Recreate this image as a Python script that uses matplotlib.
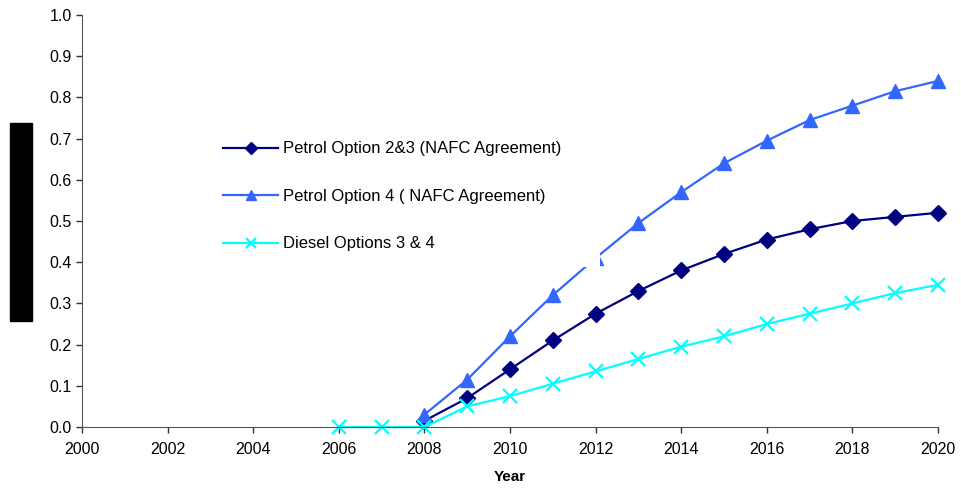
import matplotlib
matplotlib.use("Agg")
import matplotlib.pyplot as plt
from matplotlib.patches import Rectangle

plt.rcParams['font.family'] = ['Liberation Sans', 'DejaVu Sans']

years_p = [2008, 2009, 2010, 2011, 2012, 2013, 2014, 2015, 2016, 2017, 2018, 2019, 2020]
petrol_23 = [0.015, 0.07, 0.14, 0.21, 0.275, 0.33, 0.38, 0.42, 0.455, 0.48, 0.50, 0.51, 0.52]
petrol_4 = [0.03, 0.115, 0.22, 0.32, 0.41, 0.495, 0.57, 0.64, 0.695, 0.745, 0.78, 0.815, 0.84]
years_d = [2006, 2007, 2008, 2009, 2010, 2011, 2012, 2013, 2014, 2015, 2016, 2017, 2018, 2019, 2020]
diesel = [0.0, 0.0, 0.0, 0.05, 0.075, 0.105, 0.135, 0.165, 0.195, 0.22, 0.25, 0.275, 0.30, 0.325, 0.345]

labels = ["Petrol Option 2&3 (NAFC Agreement)",
          "Petrol Option 4 ( NAFC Agreement)",
          "Diesel Options 3 & 4"]

fig = plt.figure(figsize=(9.61, 4.88), dpi=100)
ax = fig.add_axes([82 / 961, 1 - 427 / 488, (938 - 82) / 961, (427 - 15) / 488])

ax.plot(years_p, petrol_23, color='#000080', marker='D', markersize=8, lw=1.6,
        label=labels[0], clip_on=False)
ax.plot(years_p, petrol_4, color='#3366FF', marker='^', markersize=10, lw=1.6,
        label=labels[1], clip_on=False)
ax.plot(years_d, diesel, color='#00FFFF', marker='x', markersize=10, mew=1.6, lw=1.6,
        label=labels[2], clip_on=False)

ax.set_xlim(2000, 2020)
ax.set_ylim(0, 1.0)
ax.set_xticks(range(2000, 2021, 2))
ax.set_yticks([i / 10 for i in range(11)])
ax.yaxis.set_major_formatter(matplotlib.ticker.FormatStrFormatter('%.1f'))
ax.tick_params(direction='out', length=4, width=1, colors='#333333', labelsize=11.5,
               labelcolor='black')
ax.tick_params(axis='x', pad=7)
for side in ['top', 'right']:
    ax.spines[side].set_visible(False)
for side in ['left', 'bottom']:
    ax.spines[side].set_color('#555555')
ax.set_xlabel('Year', fontsize=11, fontweight='bold', labelpad=9)

# white block behind the legend (hides part of the line near 2012)
ax.add_patch(Rectangle((214 / 961, 1 - 267 / 488), (600 - 214) / 961, (267 - 121) / 488,
                       transform=fig.transFigure, facecolor='white', edgecolor='none',
                       zorder=5, clip_on=False))

leg = ax.legend(loc='upper left', bbox_to_anchor=(210 / 961, 1 - 128 / 488),
                bbox_transform=fig.transFigure, frameon=False,
                fontsize=12, handlelength=3.3, handletextpad=0.3,
                labelspacing=1.95, borderpad=0.3, markerscale=0.75)
leg.set_zorder(10)

fig.patches.append(Rectangle((10 / 961, 1 - 321 / 488), 22 / 961, 198 / 488,
                             transform=fig.transFigure, color='black'))

fig.savefig('out.png', dpi=100)
